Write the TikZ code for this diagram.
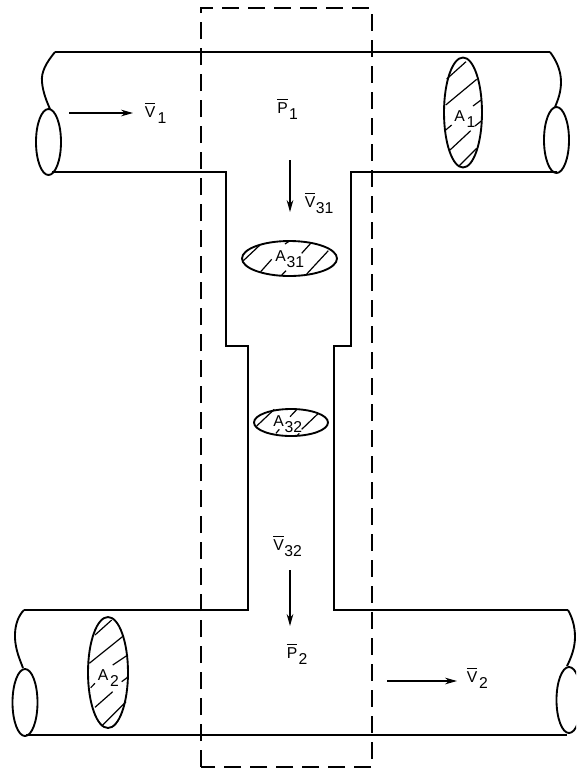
\documentclass[tikz,border=0pt]{standalone}
\usepackage{fontspec}
\setmainfont{Liberation Sans}
\usetikzlibrary{arrows.meta}
\tikzset{
  % ---- walls ------------------------------------------------------------
  wall/.style={draw=black, line width=1.4pt, line join=miter},
  ctrl/.style={draw=black, line width=1.4pt, dash pattern=on 12.5pt off 7pt},
  hatch/.style={draw=black, line width=0.9pt},
  % ---- arrows -----------------------------------------------------------
  ar/.style={-{Stealth[length=9pt,width=5pt]}, draw=black, line width=0.8pt},
  % ---- labels -----------------------------------------------------------
  lbl/.style={font=\fontsize{11.8}{13}\selectfont, text=black, inner sep=0pt, anchor=base west},
}
\newcommand{\ovr}[1]{\setbox0\hbox{#1}\rlap{\rule[\dimexpr\ht0+1.6pt\relax]{\wd0}{0.6pt}}\box0}
\newcommand{\lab}[5]{\node[lbl] (#1) at (#2) {#3\hspace{#4}\raisebox{-5.2pt}{#5}};}
\newcommand{\flow}[3]{\coordinate (#1s) at (#2); \coordinate (#1e) at (#3); \draw[ar] (#1s) -- (#1e);}
\begin{document}
\begin{tikzpicture}[x=0.75pt,y=-0.75pt]
\clip (0,0) rectangle (576,769);

\def\XL{226}\def\XR{351}\def\XLL{248}\def\XRR{334}
\def\YA{52}\def\YB{172}\def\YS{346}\def\YC{610}\def\YD{735}

% ---- pipe walls -----------------------------------------------------------
\draw[wall] (55,\YA) -- (550,\YA);
\draw[wall] (52,\YB) -- (\XL,\YB) -- (\XL,\YS) -- (\XLL,\YS) -- (\XLL,\YC) -- (24,\YC);
\draw[wall] (557,\YB) -- (\XR,\YB) -- (\XR,\YS) -- (\XRR,\YS) -- (\XRR,\YC) -- (568,\YC);
\draw[wall] (26,\YD) -- (567,\YD);

% ---- broken ends ----------------------------------------------------------
\draw[wall] (55,\YA) .. controls (46,63) and (41,72) .. (42,82) .. controls (43,93) and (47,102) .. (50,109);
\draw[wall] (550,\YA) .. controls (556,60) and (561,70) .. (561,82) .. controls (561,92) and (558,100) .. (555,107);
\draw[wall] (24,\YC) .. controls (18,616) and (14.5,626) .. (15,638) .. controls (15.5,650) and (20,660) .. (23,668);
\draw[wall] (568,\YC) .. controls (572,617) and (575,626) .. (575,637) .. controls (575,648) and (571,658) .. (567,666);
\draw[wall] (48.5,142) ellipse [x radius=12.5, y radius=33];
\draw[wall] (556.5,140) ellipse [x radius=12.5, y radius=33];
\draw[wall] (25,702.5) ellipse [x radius=12.5, y radius=33.5];
\draw[wall] (569,700) ellipse [x radius=12.5, y radius=33];

% ---- control volume -------------------------------------------------------
\draw[ctrl] (201,767) -- (201,8) -- (372,8) -- (372,767) -- cycle;

% ---- sections -------------------------------------------------------------
\draw[wall] (463,112.5) ellipse [x radius=19, y radius=55];
\draw[wall] (108,672.5) ellipse [x radius=20, y radius=55.5];
\draw[wall] (289.5,258.5) ellipse [x radius=47.5, y radius=17.5];
\draw[wall] (291,422.5) ellipse [x radius=37, y radius=13.5];

% ---- hatching -------------------------------------------------------------
\draw[hatch] (446.7,79) -- (466,61.7);
\draw[hatch] (445.7,105) -- (476.7,79.3);
\draw[hatch] (473,106) -- (481,100);
\draw[hatch] (445.7,130) -- (451.7,125);
\draw[hatch] (475,126) -- (481.7,120.7);
\draw[hatch] (450,150) -- (470.7,130.7);
\draw[hatch] (459.3,165.7) -- (476.7,148.3);

\draw[hatch] (95,635) -- (111.7,620);
\draw[hatch] (89.3,663.3) -- (123.3,636);
\draw[hatch] (112.7,665) -- (127.7,655);
\draw[hatch] (90.7,687.7) -- (95,683.3);
\draw[hatch] (121.7,681.7) -- (128.3,676.7);
\draw[hatch] (95,707.3) -- (112.7,691.7);
\draw[hatch] (101.7,726) -- (126,701.7);

\draw[hatch] (243.3,260.7) -- (260,245);
\draw[hatch] (260.7,271.7) -- (271.7,259.3);
\draw[hatch] (285,244) -- (290,240.7);
\draw[hatch] (281.7,275) -- (286,270.7);
\draw[hatch] (301.7,253.3) -- (310.7,243.3);
\draw[hatch] (306.7,274) -- (328.3,250.7);

\draw[hatch] (256.7,426) -- (274.3,409.3);
\draw[hatch] (276,433.3) -- (279.3,429.3);
\draw[hatch] (290,416.7) -- (297.3,409);
\draw[hatch] (296.7,436) -- (299.3,433.3);
\draw[hatch] (301.7,429.3) -- (317.7,414);

% ---- flow arrows ----------------------------------------------------------
\flow{vone}{69,113}{133,113}
\flow{vtwo}{387,681}{457,681}
\flow{vta}{290,160}{290,212}
\flow{vtb}{290,570}{290,626}

% ---- labels ---------------------------------------------------------------
\lab{lvone}{144.5,117}{\ovr{V}}{1.8pt}{1}
\lab{lpone}{277,113}{\ovr{P}}{1pt}{1}
\lab{lvta}{304.5,207}{\ovr{V}}{0.4pt}{31}
\lab{lvtb}{273,550}{\ovr{V}}{0.4pt}{32}
\lab{lptwo}{286.5,658}{\ovr{P}}{1pt}{2}
\lab{lvtwo}{466.5,682}{\ovr{V}}{1.4pt}{2}
\lab{laone}{454,121}{A}{1.4pt}{1}
\lab{latwo}{97.5,680}{A}{1.4pt}{2}
\lab{lata}{275,261}{A}{0.6pt}{31}
\lab{latb}{273,426}{A}{0.6pt}{32}

\end{tikzpicture}
\end{document}
